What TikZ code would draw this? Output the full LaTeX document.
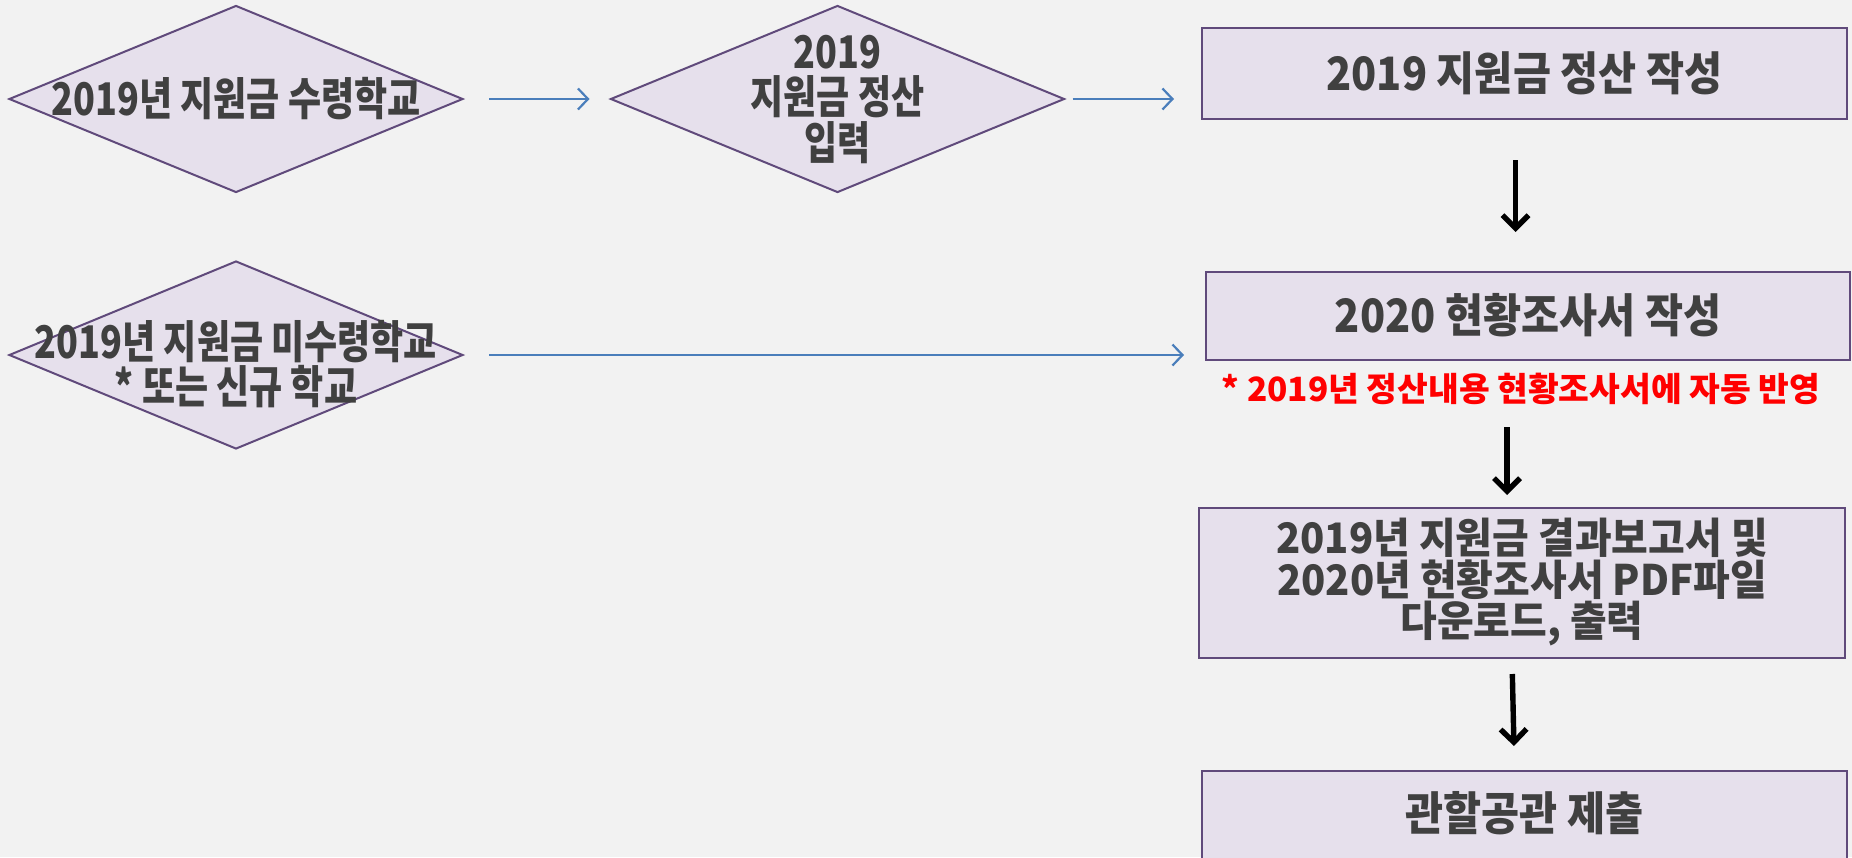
\documentclass[tikz,border=0pt]{standalone}
\usepackage{fontspec}
\setmainfont{Noto Sans CJK KR}
\newfontfamily\krA{Noto Sans CJK KR}[FakeStretch=0.8]
\newfontfamily\krB{Noto Sans CJK KR}[FakeStretch=0.9]
\newfontfamily\krC{Noto Sans CJK KR}[FakeStretch=0.95]
\usetikzlibrary{shapes.geometric,arrows.meta}
\definecolor{bg}{HTML}{F2F2F2}
\definecolor{boxfill}{HTML}{E6E0EC}
\definecolor{boxline}{HTML}{604A7B}
\definecolor{txt}{HTML}{404040}
\definecolor{blueline}{HTML}{4A7EBB}
\definecolor{note}{HTML}{FF0000}
\tikzset{
  stepbox/.style={draw=boxline, line width=1pt, fill=boxfill, rectangle, inner sep=0pt},
  decision/.style={draw=boxline, line width=1pt, fill=boxfill, diamond, inner sep=0pt, aspect=2.4},
  lbl/.style={text=txt, align=center, inner sep=0pt},
  dlbl/.style={lbl, font=\krA\bfseries\fontsize{22.5pt}{22.5pt}\selectfont},
  blbl/.style={lbl, font=\krB\bfseries\fontsize{23pt}{24pt}\selectfont},
  notetext/.style={text=note, font=\bfseries\fontsize{16.7pt}{19pt}\selectfont, inner sep=0pt},
  bluearrow/.style={draw=blueline, line width=1.1pt, -{Straight Barb[length=5pt,width=10.5pt]}},
  blackarrow/.style={draw=black, line width=2.7pt, -{Straight Barb[length=6.5pt,width=13pt]}}
}
\begin{document}
\begin{tikzpicture}[x=0.5pt,y=-0.5pt]
\fill[bg] (0,0) rectangle (1852,857);
\useasboundingbox (0,0) rectangle (1852,857);
\clip (0,0) rectangle (1852,857);
% diamonds
\node[decision, minimum width=227pt, minimum height=93.5pt] (d1) at (236,99) {};
\node[dlbl] (d1t) at (236,99) {2019년 지원금 수령학교};
\node[decision, minimum width=227pt, minimum height=93.5pt] (d2) at (837.5,99) {};
\node[dlbl, font=\krA\bfseries\fontsize{22.5pt}{22.75pt}\selectfont] (d2t) at (837.5,99) {2019\\지원금 정산\\입력};
\node[decision, minimum width=227pt, minimum height=94pt] (d3) at (236,355) {};
\node[dlbl, font=\krA\bfseries\fontsize{22.5pt}{21.25pt}\selectfont] (d3t) at (236,364) {2019년 지원금 미수령학교\\* 또는 신규 학교};
% boxes
\node[stepbox, minimum width=322.5pt, minimum height=45.5pt] (b1) at (1524.5,73.5) {};
\node[blbl] (b1t) at (1524.5,73.5) {2019 지원금 정산 작성};
\node[stepbox, minimum width=322pt, minimum height=44pt] (b2) at (1528,316) {};
\node[blbl] (b2t) at (1528,315) {2020 현황조사서 작성};
\node[notetext] (n) at (1521,389) {* 2019년 정산내용 현황조사서에 자동 반영};
\node[stepbox, minimum width=323pt, minimum height=75pt] (b3) at (1522,583) {};
\node[lbl, font=\krC\bfseries\fontsize{21pt}{19.7pt}\selectfont] (b3t) at (1522,582) {2019년 지원금 결과보고서 및\\2020년 현황조사서 PDF파일\\다운로드, 출력};
\node[stepbox, minimum width=322.5pt, minimum height=65pt, anchor=north] (b4) at (1524.5,770) {};
\node[blbl] (b4t) at (1524.5,813) {관할공관 제출};
% blue connectors
\draw[bluearrow, shorten <=12.5pt, shorten >=10pt] (d1.east) -- (d2.west);
\draw[bluearrow, shorten <=3.5pt, shorten >=13.5pt] (d2.east) -- (d2.east -| b1.west);
\draw[bluearrow, shorten <=12.5pt, shorten >=10.5pt] (d3.east) -- (d3.east -| b2.west);
% black connectors
\draw[blackarrow, shorten <=20pt, shorten >=19.5pt] ([xshift=-4.5pt]b1.south) -- ([xshift=-4.5pt]b1.south |- b2.north);
\draw[blackarrow, shorten <=11pt, shorten >=6pt] ([xshift=-7.5pt]n.south -| b3.north) -- ([xshift=-7.5pt]b3.north);
\draw[blackarrow, shorten <=7.5pt, shorten >=12pt] ([xshift=-5pt]b3.south) -- ([xshift=-5pt]b4.north);
\end{tikzpicture}
\end{document}
